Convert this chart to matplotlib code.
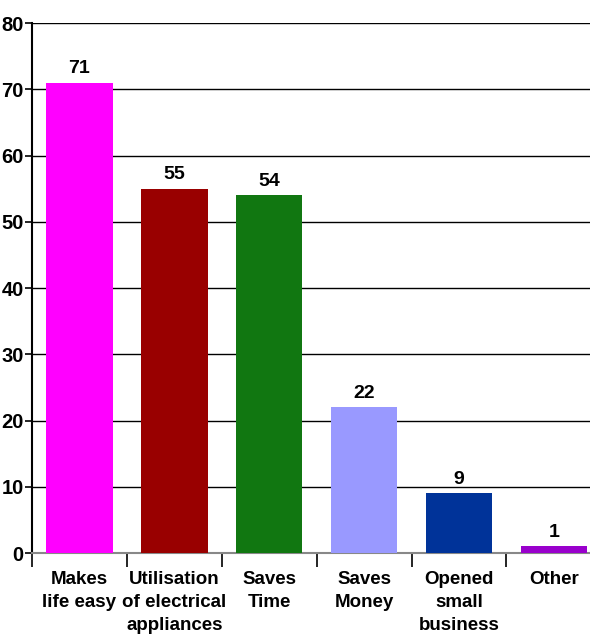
import matplotlib.pyplot as plt

categories = ["Makes\nlife easy", "Utilisation\nof electrical\nappliances", "Saves\nTime",
              "Saves\nMoney", "Opened\nsmall\nbusiness", "Other"]
counts = [71, 55, 54, 22, 9, 1]
colors = ["#ff00ff", "#990000", "#117711", "#9999ff", "#003399", "#9900cc"]

plt.rcParams['font.family'] = ['Liberation Sans', 'DejaVu Sans']
plt.rcParams['font.weight'] = 'bold'

fig = plt.figure(figsize=(5.9, 6.36), dpi=100)
# axes runs a little past the right edge so the last bar is cut off
ax = fig.add_axes([0.0542, 0.1305, 0.965, 0.8333])

x = range(len(categories))
ax.bar(x, counts, width=0.7, color=colors, zorder=3)

for i, v in enumerate(counts):
    ax.annotate(str(v), (i, v), xytext=(0, 4), textcoords="offset points",
                ha="center", va="bottom", fontsize=14, fontweight="bold")

ax.set_xlim(-0.5, len(categories) - 0.5)
ax.set_ylim(0, 80)
ax.set_yticks(range(0, 81, 10))
ax.yaxis.grid(True, color="black", linewidth=1.0, zorder=0)
ax.set_axisbelow(True)

ax.set_xticks([i + 0.5 for i in range(-1, len(categories) - 1)])
ax.set_xticklabels([])
ax.set_xticks(list(x), minor=True)
ax.set_xticklabels(categories, minor=True, fontsize=13.5, fontweight="bold", linespacing=1.45)
ax.tick_params(axis="x", which="major", length=10, width=1.2, color="black", direction="out")
ax.tick_params(axis="x", which="minor", length=0, pad=13)
ax.tick_params(axis="y", length=5, width=1.2, labelsize=14.5, pad=1)

for side in ["top", "right"]:
    ax.spines[side].set_visible(False)
ax.spines["left"].set_linewidth(1.5)
ax.spines["bottom"].set_color("#888888")
ax.spines["bottom"].set_linewidth(1.5)

fig.savefig("out.png", dpi=100)
